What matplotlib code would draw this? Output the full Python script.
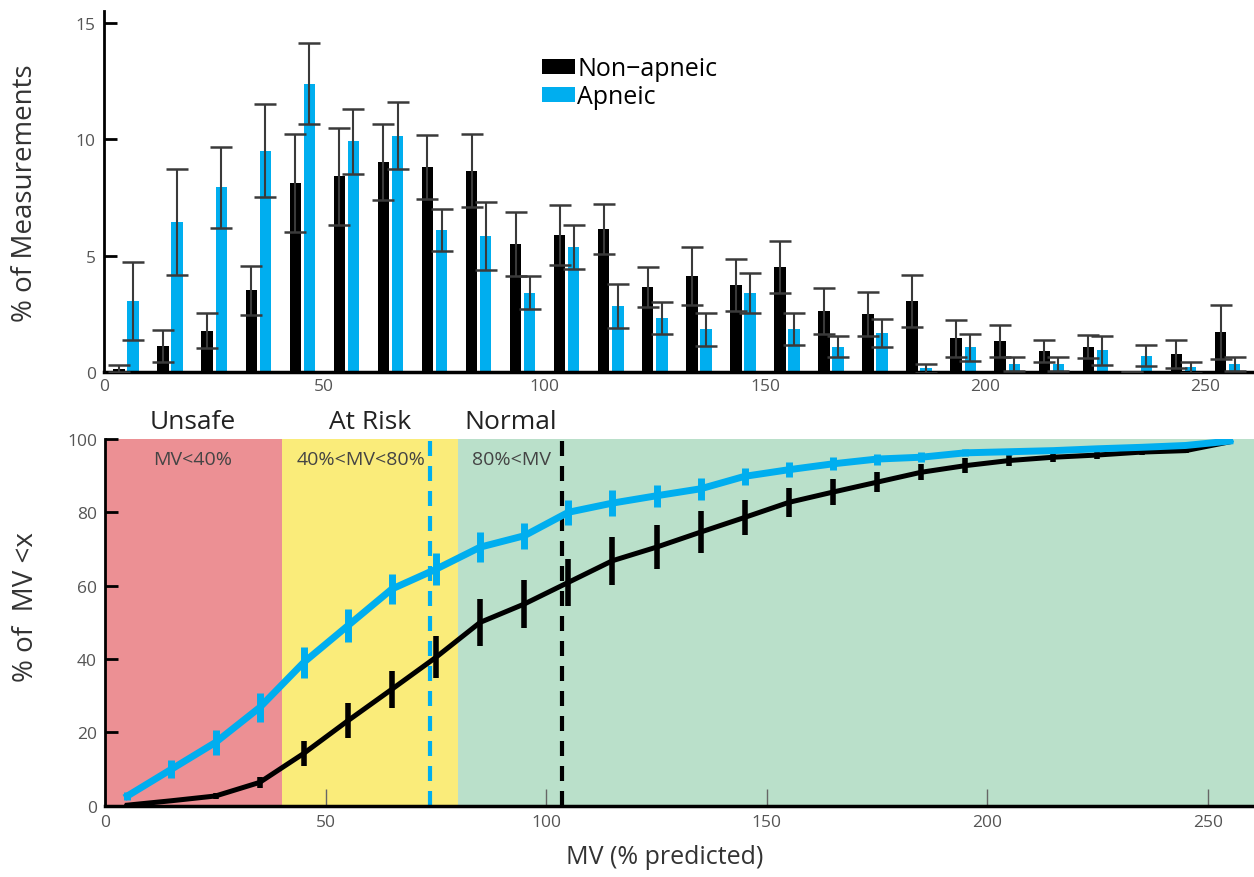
import matplotlib
matplotlib.use("Agg")
import matplotlib.pyplot as plt
import numpy as np

plt.rcParams['font.family'] = ['Open Sans', 'DejaVu Sans']

# bin centres (MV % predicted)
mv_bins = [5, 15, 25, 35, 45, 55, 65, 75, 85, 95, 105, 115, 125, 135, 145,
           155, 165, 175, 185, 195, 205, 215, 225, 235, 245, 255]

# top panel: % of measurements per bin
non_apneic_pct = [0.15, 1.13, 1.77, 3.51, 8.13, 8.41, 9.01, 8.80, 8.66, 5.49, 5.91, 6.15, 3.67,
                  4.13, 3.74, 4.53, 2.63, 2.50, 3.06, 1.46, 1.34, 0.91, 1.10, 0.0, 0.77, 1.73]
non_apneic_err = [0.15, 0.70, 0.75, 1.05, 2.10, 2.07, 1.63, 1.37, 1.56, 1.38, 1.29, 1.06, 0.86,
                  1.25, 1.12, 1.12, 1.00, 0.95, 1.10, 0.80, 0.70, 0.46, 0.50, 0.0, 0.60, 1.17]
apneic_pct = [3.05, 6.44, 7.94, 9.51, 12.39, 9.91, 10.16, 6.09, 5.84, 3.41, 5.37, 2.84, 2.34,
              1.84, 3.41, 1.84, 1.10, 1.70, 0.16, 1.06, 0.37, 0.37, 0.94, 0.70, 0.20, 0.37]
apneic_err = [1.67, 2.27, 1.75, 2.00, 1.73, 1.40, 1.44, 0.90, 1.46, 0.70, 0.93, 0.94, 0.68,
              0.70, 0.87, 0.68, 0.47, 0.60, 0.20, 0.57, 0.30, 0.30, 0.62, 0.45, 0.25, 0.30]

# bottom panel: cumulative % of MV < x
apneic_cdf = [2.7, 10.0, 17.3, 26.8, 39.1, 49.1, 59.1, 64.5, 70.5, 73.6, 80.0, 82.5, 84.5,
              86.4, 89.8, 91.6, 93.2, 94.5, 95.0, 96.2, 96.5, 96.8, 97.3, 97.7, 98.2, 99.4]
apneic_cdf_err = [1.0, 2.5, 3.5, 3.9, 4.3, 4.5, 4.0, 4.3, 4.0, 3.5, 3.4, 3.6, 3.0,
                  3.0, 2.3, 2.0, 1.8, 1.5, 1.3, 1.0, 0.8, 0.7, 0.6, 0.5, 0.4, 0.3]
non_apneic_cdf = [0.2, 1.4, 2.7, 6.4, 14.3, 23.2, 31.8, 40.5, 50.0, 55.0, 60.9, 66.8, 70.5,
                  74.6, 78.6, 82.7, 85.5, 88.2, 90.9, 92.7, 94.1, 95.0, 95.6, 96.4, 96.8, 99.2]
non_apneic_cdf_err = [0.3, 0.5, 0.8, 1.5, 3.4, 4.8, 5.0, 5.7, 6.5, 6.6, 6.4, 6.6, 5.9,
                      5.7, 4.8, 3.9, 3.6, 2.8, 2.2, 2.0, 1.5, 1.2, 1.0, 0.8, 0.6, 0.4]

apneic_median = 73.7
non_apneic_median = 103.6

zones = [(0, 40, '#EC9094', 'Unsafe', 'MV<40%'),
         (40, 80, '#FAEC7A', 'At Risk', '40%<MV<80%'),
         (80, 262, '#BAE0CA', 'Normal', '80%<MV')]
zone_label_x = [19.8, 60, 92]
zone_sub_x = [19.8, 58, 92]

blue = '#00AEEF'
tick_grey = '#555555'

fig = plt.figure(figsize=(12.54, 8.78), dpi=100)
ax1 = fig.add_axes([0.083, 0.575, 0.917, 0.411])
ax2 = fig.add_axes([0.084, 0.081, 0.916, 0.418])

x = np.array(mv_bins)
off = 1.6
w = 2.6
ax1.bar(x - off, non_apneic_pct, width=w, color='black', label='Non\u2212apneic', zorder=2)
ax1.bar(x + off, apneic_pct, width=w, color=blue, label='Apneic', zorder=2)
ax1.errorbar(x - off, non_apneic_pct, yerr=non_apneic_err, fmt='none', ecolor='#3a3a3a',
             elinewidth=1.5, capsize=8, capthick=1.8, zorder=3)
ax1.errorbar(x + off, apneic_pct, yerr=apneic_err, fmt='none', ecolor='#3a3a3a',
             elinewidth=1.5, capsize=8, capthick=1.8, zorder=3)

ax1.set_xlim(0, 261)
ax1.set_ylim(0, 15.5)
ax1.set_yticks([0, 5, 10, 15])
ax1.set_xticks([0, 50, 100, 150, 200, 250])
ax1.tick_params(axis='y', direction='in', length=9, width=2, colors='black',
                labelcolor=tick_grey, labelsize=12.5, pad=6)
ax1.tick_params(axis='x', length=0, labelcolor=tick_grey, labelsize=12.5, pad=4)
for s in ['top', 'right']:
    ax1.spines[s].set_visible(False)
ax1.spines['left'].set_linewidth(2)
ax1.spines['bottom'].set_linewidth(2.5)
ax1.set_ylabel('% of Measurements', fontsize=20, color='#333333')
ax1.yaxis.set_label_coords(-0.057, 0.5)
ax1.legend(loc='upper left', bbox_to_anchor=(0.381, 0.875), frameon=False, fontsize=18,
           handlelength=1.3, handleheight=0.55, handletextpad=0.1, labelspacing=0.1,
           borderaxespad=0, borderpad=0)

# bottom panel
for (a, b, c, name, sub), lx, sx in zip(zones, zone_label_x, zone_sub_x):
    ax2.axvspan(a, b, ymin=0, ymax=1, color=c, lw=0, zorder=0)
    ax2.text(lx, 101.2, name, ha='center', va='bottom', fontsize=19, color='#222222',
             clip_on=False)
    ax2.text(sx, 94.6, sub, ha='center', va='center', fontsize=14, color='#444444')

ax2.plot([apneic_median, apneic_median], [0, 100], color=blue, lw=3,
         linestyle=(0, (3.6, 2.4)), zorder=2)
ax2.plot([non_apneic_median, non_apneic_median], [0, 100], color='black', lw=3,
         linestyle=(0, (3.6, 2.4)), zorder=2)

ax2.errorbar(mv_bins, non_apneic_cdf, yerr=non_apneic_cdf_err, color='black', lw=3.6,
             elinewidth=4, capsize=0, zorder=3)
ax2.errorbar(mv_bins, apneic_cdf, yerr=apneic_cdf_err, color=blue, lw=5,
             elinewidth=5, capsize=0, zorder=4)

ax2.set_xlim(0, 260.5)
ax2.set_ylim(0, 100)
ax2.set_xticks([0, 50, 100, 150, 200, 250])
ax2.set_yticks([0, 20, 40, 60, 80, 100])
ax2.tick_params(axis='y', direction='in', length=9, width=2, colors='black',
                labelcolor=tick_grey, labelsize=12.5, pad=6)
ax2.tick_params(axis='x', direction='in', length=12, width=1, colors='#666666',
                labelcolor=tick_grey, labelsize=12.5, pad=6)
for s in ['top', 'right']:
    ax2.spines[s].set_visible(False)
ax2.spines['left'].set_linewidth(2)
ax2.spines['bottom'].set_linewidth(2.5)
ax2.set_ylabel('% of  MV <x', fontsize=20, color='#333333')
ax2.yaxis.set_label_coords(-0.057, 0.545)
ax2.set_xlabel('MV (% predicted)', fontsize=18, color='#333333')
ax2.xaxis.set_label_coords(0.487, -0.105)

fig.savefig('out.png', dpi=100)
